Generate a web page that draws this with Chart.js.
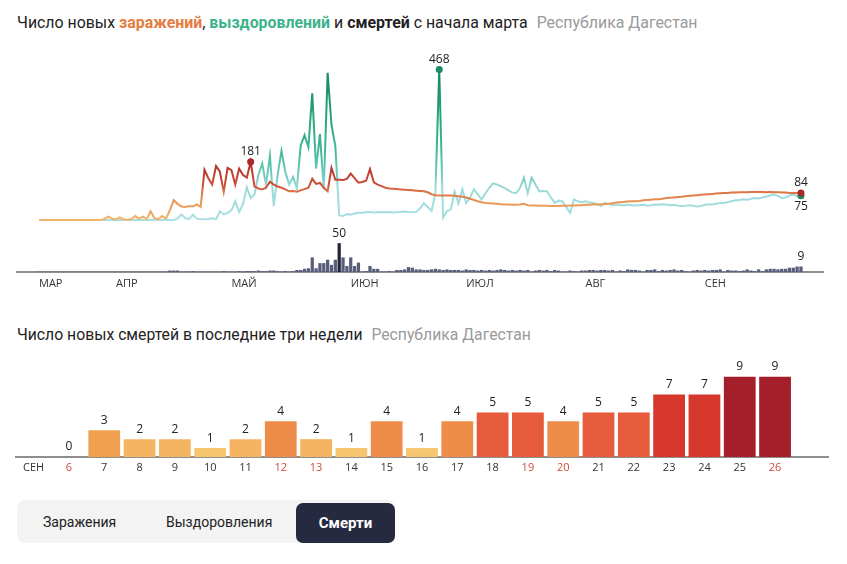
<!DOCTYPE html>
<html lang="ru">
<head>
<meta charset="utf-8">
<script src="https://cdn.jsdelivr.net/npm/chart.js@4.4.0/dist/chart.umd.min.js"></script>
<style>
  html,body{margin:0;padding:0;background:#fff;}
  body{width:847px;height:564px;position:relative;overflow:hidden;font-family:Roboto,"Open Sans",sans-serif;color:#222;}
  .title{position:absolute;left:17px;font-size:15.9px;line-height:20px;white-space:nowrap;}
  .title b{font-weight:700;}
  .inf{color:#e67b3f;}
  .rec{color:#3db38b;}
  .reg{color:#9a9a9a;margin-left:5px;}
  #t1{top:13px;}
  #t2{top:325px;font-size:15.75px;}
  canvas{position:absolute;left:0;}
  #c1{top:40px;}
  #c2{top:345px;}
  .tabs{position:absolute;left:17px;top:500px;width:378px;height:43px;background:#f3f3f3;border-radius:8px;font-size:14px;}
  .tab{position:absolute;top:0;height:43px;line-height:44px;color:#222;}
  .tab.on{top:3px;height:40px;line-height:40px;left:279px;width:99px;text-align:center;background:#252a40;color:#fff;font-weight:700;font-size:15px;border-radius:7px;}
</style>
</head>
<body>
<div class="title" id="t1">Число новых <b class="inf">заражений</b>, <b class="rec">выздоровлений</b> и <b>смертей</b> с начала марта <span class="reg">Республика Дагестан</span></div>
<canvas id="c1" width="847" height="260"></canvas>
<div class="title" id="t2">Число новых смертей в последние три недели <span class="reg">Республика Дагестан</span></div>
<canvas id="c2" width="847" height="135"></canvas>
<div class="tabs">
  <div class="tab" style="left:26px">Заражения</div>
  <div class="tab" style="left:149px">Выздоровления</div>
  <div class="tab on">Смерти</div>
</div>
<script>
// ----- Data: daily values from 12 March to 26 September -----
const INFECTED = [
  0,0,0,0,0,0,0,0,0,0,
  0,0,0,0,0,0,0,3,10,4,
  2,8,2,0,3,12,4,10,3,27,
  5,2,12,4,30,61,50,42,40,43,
  42,48,40,156,130,110,168,150,87,162,
  155,110,160,140,132,181,104,98,95,100,
  119,110,104,100,95,89,90,88,92,96,
  100,128,112,115,100,89,162,125,125,124,
  128,144,130,116,118,122,158,117,110,105,
  100,98,97,96,95,94,93,92,91,90,
  89,86,80,77,76,76,76,76,75,74,
  72,70,66,62,58,55,53,52,51,50,
  49,48,48,47,47,48,50,46,45,45,
  44,44,44,43,43,43,44,44,45,45,
  46,46,47,47,48,48,49,49,50,52,
  54,55,56,57,58,58,59,61,62,63,
  64,64,66,68,69,70,71,72,74,75,
  76,77,78,79,80,81,82,83,84,84,
  85,85,86,86,86,87,87,87,87,86,
  87,86,86,85,85,84,84,84,84
];
const RECOVERED = [
  0,0,0,0,0,0,0,0,0,0,
  0,0,0,0,0,0,0,0,0,0,
  0,0,0,0,0,0,0,0,0,0,
  0,0,0,0,0,0,5,17,5,3,
  16,4,2,2,3,5,2,27,17,22,
  30,58,25,49,101,68,80,140,175,110,
  199,43,140,214,150,110,134,98,232,264,
  226,394,160,267,95,458,296,230,14,12,
  18,16,20,22,22,24,25,23,24,25,
  24,25,23,24,25,26,25,24,25,35,
  52,40,28,82,468,7,27,33,88,52,
  95,52,70,95,80,64,83,100,114,110,
  105,99,92,85,83,100,131,83,131,110,
  89,90,89,70,53,60,58,40,22,64,
  58,55,58,55,53,50,43,53,50,46,
  48,46,46,47,46,45,46,47,45,46,
  48,47,49,48,46,47,44,43,44,46,
  44,42,43,47,49,48,50,53,53,56,
  58,61,62,64,63,66,68,67,70,73,
  76,79,75,68,70,76,79,74,75
];
const DEATHS = [
  0,0,0,0,0,0,0,0,0,0,
  0,0,0,0,0,0,0,0,0,0,
  0,0,0,0,0,0,0,0,0,0,
  0,0,0,0,2,2,2,0,0,0,
  1,0,0,0,0,0,0,0,1,0,
  0,0,1,0,1,1,1,2,1,1,
  2,2,1,0,1,0,1,3,3,5,
  6,25,6,15,15,21,12,21,50,25,
  10,25,10,16,0,1,10,5,5,0,
  0,1,0,3,3,4,8,7,4,4,
  3,3,4,5,4,3,4,3,3,3,
  2,4,3,3,2,3,2,3,2,3,
  4,3,2,3,2,3,2,3,0,2,
  3,2,3,1,3,2,0,0,2,1,
  0,2,2,3,3,2,3,3,2,3,
  0,2,1,4,3,3,2,0,3,3,
  4,1,3,2,3,4,2,3,1,0,
  2,3,2,3,2,3,3,4,0,3,
  2,2,1,2,4,2,1,4,1,4,
  5,5,4,5,5,7,7,9,9
];
const MONTH_NAMES = ['МАР','АПР','МАЙ','ИЮН','ИЮЛ','АВГ','СЕН'];
const MONTH_POS = [0,20,50,81,111,142,173];

// last three weeks
const WEEK_LABELS = ['СЕН','6','7','8','9','10','11','12','13','14','15','16','17','18','19','20','21','22','23','24','25','26',''];
const WEEK_DEATHS = [null,0,3,2,2,1,2,4,2,1,4,1,4,5,5,4,5,5,7,7,9,9,null];
const WEEKEND = ['6','12','13','19','20','26'];

// ----- Styles -----
const INF_STOPS = [[0,'#f2b46c'],[50,'#e99a56'],[85,'#dc7645'],[110,'#cd4d36'],[180,'#b02c2b']];
const REC_STOPS = [[0,'#a9dfe4'],[100,'#9bdad9'],[140,'#72ccbe'],[220,'#40b896'],[320,'#27a47f'],[468,'#17875f']];
const DEATH_COLORS = {1:'#f6c66e',2:'#f4b462',3:'#f0a150',4:'#ed8d49',5:'#e65b3b',6:'#dc4631',7:'#d5372c',8:'#bd2a2c',9:'#a51f2b'};
const AXIS_GREY = '#8e8e8e';

// ----- Helpers -----
function valueGradient(chart, stops){
  const {ctx, chartArea, scales} = chart;
  if(!chartArea) return stops[0][1];
  const top = stops[stops.length-1][0];
  const g = ctx.createLinearGradient(0, scales.y.getPixelForValue(0), 0, scales.y.getPixelForValue(top));
  stops.forEach(([v,c]) => g.addColorStop(v/top, c));
  return g;
}
function argMax(a){ return a.indexOf(Math.max(...a)); }
const xy = arr => arr.map((v,i) => ({x:i, y:v}));

const LAST = INFECTED.length-1;
const infMarks = [argMax(INFECTED), LAST];
const recMarks = [argMax(RECOVERED), LAST];
const dthMax = argMax(DEATHS);

// text over selected points / bars
const valueTags = {
  id:'valueTags',
  afterDatasetsDraw(chart){
    const c = chart.ctx;
    c.save();
    c.font = '12px "Open Sans", sans-serif';
    c.fillStyle = '#222';
    c.textAlign = 'center';
    chart.data.datasets.forEach((ds, di) => {
      if(!ds.tags) return;
      const meta = chart.getDatasetMeta(di);
      ds.tags.forEach(([idx, dir]) => {
        const el = meta.data[idx];
        let v = ds.data[idx];
        if(v === null || v === undefined) return;
        if(typeof v === 'object') v = v.y;
        c.textBaseline = dir < 0 ? 'bottom' : 'top';
        c.fillText(v, el.x, el.y + (dir < 0 ? -4 : 5));
      });
    });
    c.restore();
  }
};

// ----- Top chart -----
new Chart(document.getElementById('c1'), {
  type:'line',
  data:{ datasets:[
    { label:'Заражения', data:xy(INFECTED), yAxisID:'y', order:0,
      borderColor:ctx => valueGradient(ctx.chart, INF_STOPS), borderWidth:2, tension:0,
      pointRadius:ctx => infMarks.includes(ctx.dataIndex) ? 3.5 : 0,
      pointBackgroundColor:'#a8282b', pointBorderWidth:0,
      tags:[[infMarks[0],-1],[LAST,-1]] },
    { label:'Выздоровления', data:xy(RECOVERED), yAxisID:'y', order:1,
      borderColor:ctx => valueGradient(ctx.chart, REC_STOPS), borderWidth:2, tension:0,
      pointRadius:ctx => recMarks.includes(ctx.dataIndex) ? 3.5 : 0,
      pointBackgroundColor:'#1b8a62', pointBorderWidth:0,
      tags:[[recMarks[0],-1],[LAST,1]] },
    { type:'bar', label:'Смерти', data:xy(DEATHS), yAxisID:'y2', order:2,
      backgroundColor:ctx => ctx.dataIndex === dthMax ? '#23263a' : '#585d7a',
      barThickness:2.6,
      tags:[[dthMax,-1],[LAST,-1]] }
  ]},
  options:{
    responsive:false, animation:false, events:[],
    layout:{padding:{left:17, right:24, top:0, bottom:0}},
    plugins:{legend:{display:false}, tooltip:{enabled:false}},
    scales:{
      x:{ type:'linear', min:-5.72, max:203.72, offset:false,
          afterBuildTicks:s => { s.ticks = MONTH_POS.map(v => ({value:v})); },
          afterFit:s => { s.height = 28; },
          ticks:{ autoSkip:false, maxRotation:0, align:'start', padding:5, color:'#333',
                  font:{size:11, family:'"Open Sans", sans-serif'},
                  callback:(v,i) => MONTH_NAMES[i] },
          grid:{display:false, drawTicks:false},
          border:{display:true, color:AXIS_GREY, width:2} },
      y:{display:false, min:-162.1, max:547.6},
      y2:{display:false, position:'right', min:0, max:400}
    }
  },
  plugins:[valueTags]
});

// ----- Bottom chart: last three weeks -----
new Chart(document.getElementById('c2'), {
  type:'bar',
  data:{ labels:WEEK_LABELS, datasets:[{
    data:WEEK_DEATHS,
    backgroundColor:ctx => DEATH_COLORS[ctx.raw] || '#fff',
    barPercentage:0.9, categoryPercentage:1,
    tags:WEEK_DEATHS.map((v,i) => [i,-1])
  }]},
  options:{
    responsive:false, animation:false, events:[],
    layout:{padding:{left:16, right:19, top:5, bottom:0}},
    plugins:{legend:{display:false}, tooltip:{enabled:false}},
    scales:{
      x:{ afterFit:s => { s.height = 23; },
          ticks:{ autoSkip:false, maxRotation:0, padding:4,
                  font:{size:11, family:'"Open Sans", sans-serif'},
                  color:ctx => WEEKEND.includes(WEEK_LABELS[ctx.index]) ? '#cc4a3c' : '#333' },
          grid:{display:false, drawTicks:false},
          border:{display:true, color:AXIS_GREY, width:2} },
      y:{display:false, min:0, max:12}
    }
  },
  plugins:[valueTags]
});
</script>
</body>
</html>
